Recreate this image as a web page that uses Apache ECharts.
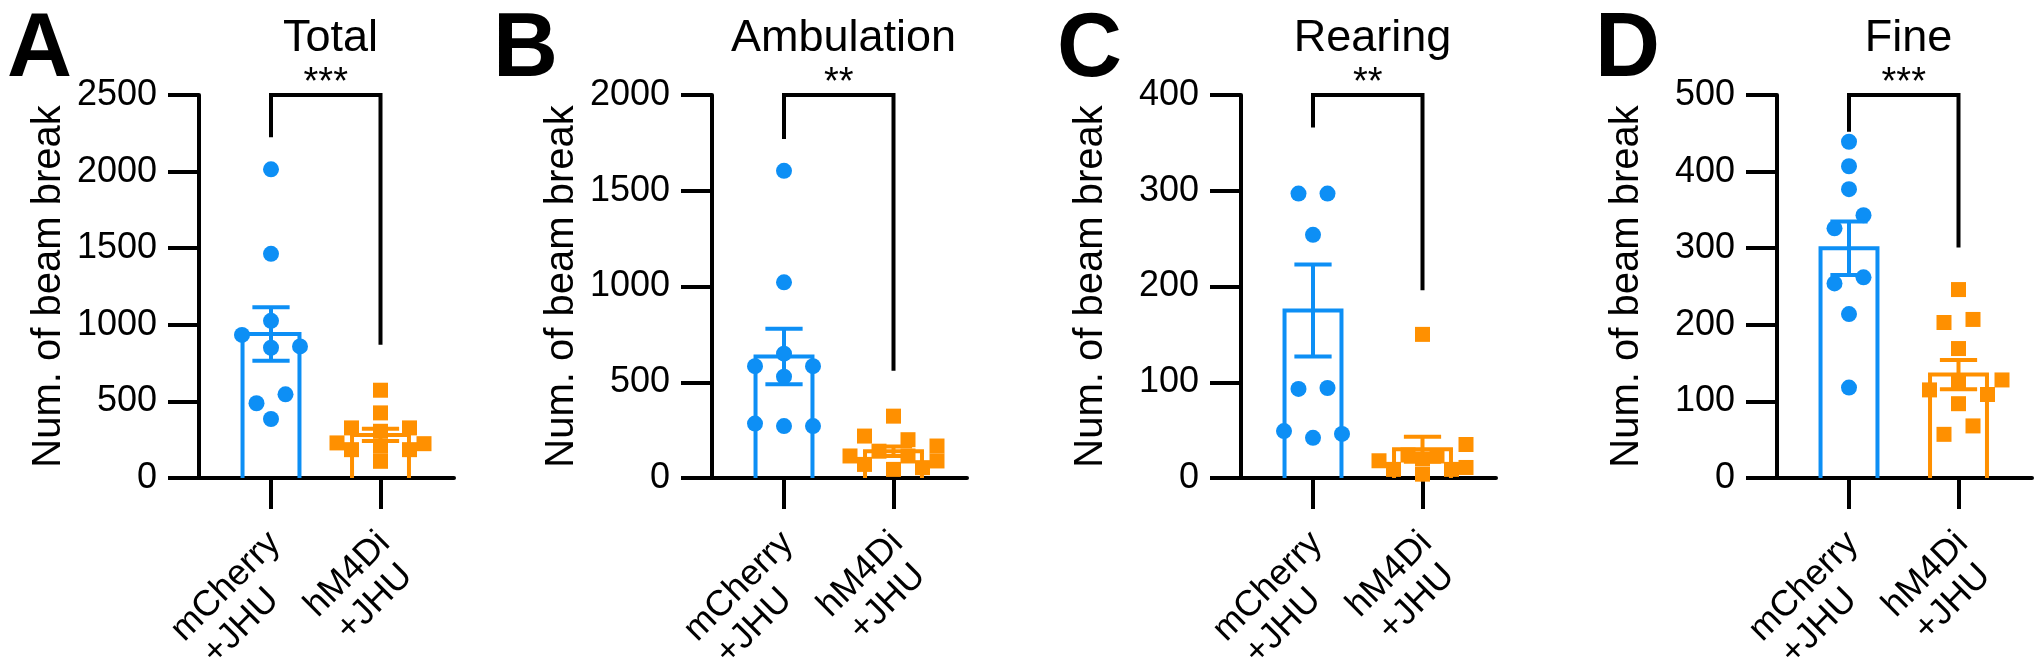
<!DOCTYPE html>
<html>
<head>
<meta charset="utf-8">
<script src="https://cdn.jsdelivr.net/npm/echarts@6/dist/echarts.min.js"></script>
<style>
	html, body { margin: 0; padding: 0; background: #fff; }
	#chart { width: 2040px; height: 668px; }
</style>
</head>
<body>
<div id="chart"></div>
<script>
// ---- data ----
var panelLetters = ['A', 'B', 'C', 'D'];
var panelTitles = ['Total', 'Ambulation', 'Rearing', 'Fine'];
var groupNames = [['mCherry', '+JHU'], ['hM4Di', '+JHU']];
var yName = 'Num. of beam break';
var yMax = [2500, 2000, 400, 500];
var yStep = [500, 500, 100, 100];
var stars = ['***', '**', '**', '***'];
// bracket leg ends [left, right]
var bracketLegs = [[2225, 870], [1770, 560], [366, 196], [452, 301]];

var totalCherry = [2015, 1463, 1026, 934, 850, 859, 546, 488, 385];
var totalHM4Di = [573, 425, 327, 305, 327, 224, 207, 185, 229, 185, 109];
var ambCherry = [1604, 1022, 649, 584, 584, 529, 271, 284, 271];
var ambHM4Di = [323, 219, 200, 167, 140, 115, 89, 115, 71, 45, 54];
var rearCherry = [297, 297, 254, 94, 93, 49, 42, 46];
var rearHM4Di = [150, 35, 18, 20, 24, 23, 9, 4, 9, 11];
var fineCherry = [439, 407, 377, 343, 326, 262, 254, 214, 118];
var fineHM4Di = [246, 203, 207, 169, 128, 126, 115, 109, 97, 57, 68];

// bar means and SEM [mCherry, hM4Di]
var barMeans = [[940, 281], [635, 140], [175, 30], [300, 135]];
var barSems = [[175, 40], [145, 25], [48, 13], [35, 19]];

var points = [
	[totalCherry, totalHM4Di],
	[ambCherry, ambHM4Di],
	[rearCherry, rearHM4Di],
	[fineCherry, fineHM4Di]
];

// ---- layout ----
var FONT = "'Liberation Sans', Arial, Helvetica, sans-serif";
var BLUE = '#0D8FF5';
var ORANGE = '#FF9000';
var colors = [BLUE, ORANGE];
var gridLefts = [199, 712, 1241, 1777];
var letterX = [7, 493, 1057, 1595];
var GRID_TOP = 95, GRID_H = 383, GRID_W = 255;
var UNIT_PX = 109.5;
var X_MIN = -72 / UNIT_PX;
var X_MAX = X_MIN + GRID_W / UNIT_PX;
var BAR_HALF = 0.26, CAP_HALF = 0.17;
var STEP = 29;

// simple beeswarm, offsets in px
function swarmOffsets(vals, pxPerVal, size) {
	var order = vals.map(function (v, i) { return i; }).sort(function (a, b) { return vals[a] - vals[b]; });
	var off = vals.map(function () { return 0; });
	var clusters = [], cur = [order[0]];
	for (var k = 1; k < order.length; k++) {
		if ((vals[order[k]] - vals[order[k - 1]]) * pxPerVal < size) cur.push(order[k]);
		else { clusters.push(cur); cur = [order[k]]; }
	}
	clusters.push(cur);
	var cands = [0, STEP, -STEP, STEP / 2, -STEP / 2, 1.5 * STEP, -1.5 * STEP];
	clusters.forEach(function (c) {
		if (c.length === 2) { off[c[0]] = -STEP / 2; off[c[1]] = STEP / 2; return; }
		var placed = [];
		c.forEach(function (i) {
			var best = 0, bestCost = Infinity;
			for (var n = 0; n < cands.length; n++) {
				var dx = cands[n], cost = 0;
				placed.forEach(function (j) {
					var ox = size - Math.abs(dx - off[j]);
					var oy = size - Math.abs(vals[i] - vals[j]) * pxPerVal;
					if (ox > 0 && oy > 0) cost += ox * oy;
				});
				if (cost < bestCost - 1e-6) { bestCost = cost; best = dx; }
				if (cost === 0) break;
			}
			off[i] = best;
			placed.push(i);
		});
	});
	return off;
}

var grids = [], xAxes = [], yAxes = [], series = [], graphics = [];

for (var p = 0; p < 4; p++) {
	grids.push({
		left: gridLefts[p], top: GRID_TOP, width: GRID_W, height: GRID_H,
		containLabel: false, outerBoundsMode: 'none'
	});
	xAxes.push({
		gridIndex: p, type: 'value', min: X_MIN, max: X_MAX,
		axisLine: { onZero: false, lineStyle: { color: '#000', width: 4 } },
		axisTick: { customValues: [0, 1], length: 31, lineStyle: { color: '#000', width: 4 } },
		axisLabel: { show: false },
		splitLine: { show: false }
	});
	yAxes.push({
		gridIndex: p, type: 'value', min: 0, max: yMax[p], interval: yStep[p],
		name: yName, nameLocation: 'middle', nameGap: 130,
		nameTextStyle: { fontFamily: FONT, fontSize: 40, color: '#000' },
		axisLine: { show: true, onZero: false, lineStyle: { color: '#000', width: 4 } },
		axisTick: { show: true, length: 31, lineStyle: { color: '#000', width: 4 } },
		axisLabel: {
			margin: 42, color: '#000', fontFamily: FONT, fontSize: 36,
			formatter: function (v) { return String(v); }
		},
		splitLine: { show: false }
	});

	var pxPerVal = GRID_H / yMax[p];

	// hollow bars
	series.push({
		type: 'custom', xAxisIndex: p, yAxisIndex: p, z: 2,
		data: [[0, barMeans[p][0]], [1, barMeans[p][1]]],
		renderItem: function (params, api) {
			var x = api.value(0), y = api.value(1);
			return {
				type: 'polyline',
				shape: { points: [
					api.coord([x - BAR_HALF, 0]), api.coord([x - BAR_HALF, y]),
					api.coord([x + BAR_HALF, y]), api.coord([x + BAR_HALF, 0])
				] },
				style: { stroke: colors[x], lineWidth: 4, fill: null }
			};
		}
	});

	// points
	for (var g = 0; g < 2; g++) {
		var vals = points[p][g];
		var size = g === 0 ? 16 : 15;
		var off = swarmOffsets(vals, pxPerVal, 15);
		series.push({
			type: 'scatter', xAxisIndex: p, yAxisIndex: p, z: 3,
			symbol: g === 0 ? 'circle' : 'rect', symbolSize: size,
			itemStyle: { color: colors[g], opacity: 1 },
			data: vals.map(function (v, i) { return [g + off[i] / UNIT_PX, v]; })
		});
	}

	// error bars
	series.push({
		type: 'custom', xAxisIndex: p, yAxisIndex: p, z: 4,
		data: [[0, barMeans[p][0], barSems[p][0]], [1, barMeans[p][1], barSems[p][1]]],
		renderItem: function (params, api) {
			var x = api.value(0), m = api.value(1), s = api.value(2);
			var st = { stroke: colors[x], lineWidth: 4 };
			var lo = api.coord([x, m - s]), hi = api.coord([x, m + s]);
			var l = api.coord([x - CAP_HALF, 0])[0], r = api.coord([x + CAP_HALF, 0])[0];
			return {
				type: 'group',
				children: [
					{ type: 'line', shape: { x1: lo[0], y1: lo[1], x2: hi[0], y2: hi[1] }, style: st },
					{ type: 'line', shape: { x1: l, y1: hi[1], x2: r, y2: hi[1] }, style: st },
					{ type: 'line', shape: { x1: l, y1: lo[1], x2: r, y2: lo[1] }, style: st }
				]
			};
		}
	});

	// category labels, rotated 45 degrees under each tick
	series.push({
		type: 'custom', xAxisIndex: p, yAxisIndex: p, z: 5, clip: false,
		data: [[0, 0], [1, 0]],
		renderItem: function (params, api) {
			var x = api.value(0);
			var pt = api.coord([x, 0]);
			var names = groupNames[x];
			return {
				type: 'text', x: pt[0] - 10, y: pt[1] + 46, rotation: Math.PI / 4,
				style: {
					text: '{a|' + names[0] + '}\n{b|' + names[1] + '}',
					rich: {
						a: { font: '36px ' + FONT, fill: '#000', align: 'left', lineHeight: 39 },
						b: { font: '36px ' + FONT, fill: '#000', align: 'left', lineHeight: 39, padding: [0, 0, 0, 6] }
					},
					font: '36px ' + FONT, fill: '#000', align: 'right', verticalAlign: 'top'
				}
			};
		}
	});

	// significance bracket
	series.push({
		type: 'custom', xAxisIndex: p, yAxisIndex: p, z: 5, clip: false,
		data: [[0, 1, yMax[p], bracketLegs[p][0], bracketLegs[p][1], p]],
		renderItem: function (params, api) {
			var top = api.value(2);
			var a = api.coord([api.value(0), api.value(3)]);
			var b = api.coord([api.value(0), top]);
			var c = api.coord([api.value(1), top]);
			var d = api.coord([api.value(1), api.value(4)]);
			return {
				type: 'group',
				children: [
					{ type: 'polyline', shape: { points: [a, b, c, d] }, style: { stroke: '#000', lineWidth: 4, fill: null } },
					{ type: 'text', x: (b[0] + c[0]) / 2, y: b[1] + 8,
						style: { text: stars[api.value(5)], font: '38px ' + FONT, fill: '#000', align: 'center', verticalAlign: 'bottom' } }
				]
			};
		}
	});

	// panel letter and title
	graphics.push({
		type: 'text', x: letterX[p], y: 96,
		style: { text: panelLetters[p], font: 'bold 90px ' + FONT, fill: '#000', align: 'left', verticalAlign: 'bottom' }
	});
	graphics.push({
		type: 'text', x: gridLefts[p] + GRID_W / 2 + 4, y: 61,
		style: { text: panelTitles[p], font: '45px ' + FONT, fill: '#000', align: 'center', verticalAlign: 'bottom' }
	});
}

var chart = echarts.init(document.getElementById('chart'));
chart.setOption({
	backgroundColor: '#fff',
	animation: false,
	grid: grids,
	xAxis: xAxes,
	yAxis: yAxes,
	series: series,
	graphic: graphics
});
</script>
</body>
</html>
